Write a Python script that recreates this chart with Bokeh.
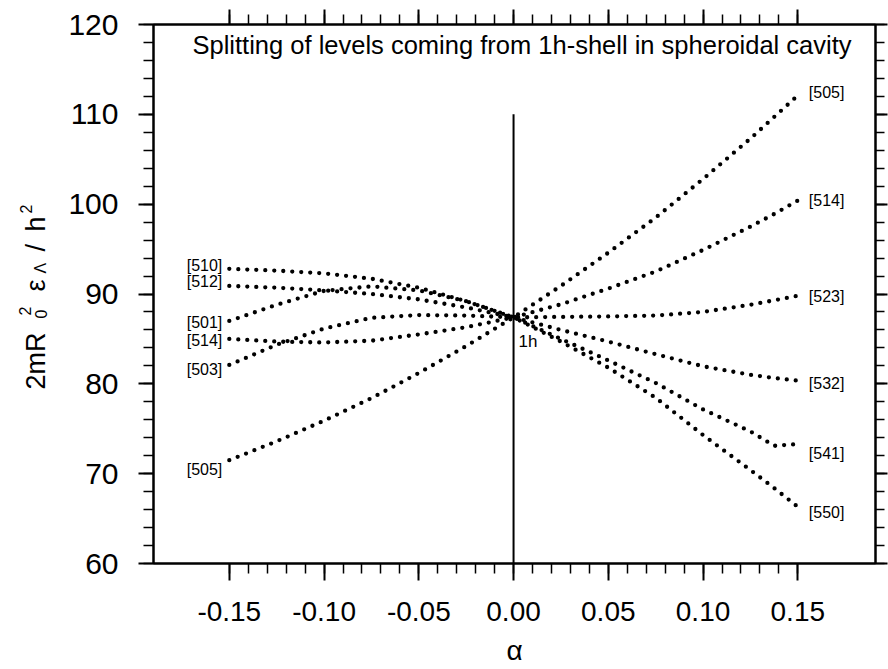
import numpy as np
from bokeh.plotting import figure
from bokeh.layouts import row
from bokeh.models import Range1d, LinearAxis, FixedTicker, PrintfTickFormatter, ColumnDataSource, Label
from bokeh.core.properties import value
from bokeh.embed import file_html
from bokeh.resources import INLINE

# ---------------- data ----------------
alpha = [-0.15, -0.125, -0.10, -0.075, -0.05, -0.025, 0.0,
         0.025, 0.05, 0.075, 0.10, 0.125, 0.1375, 0.15]

# levels by projection Lambda (left label / right label)
lam5 = [71.5, 73.6, 75.9, 78.4, 81.2, 84.2, 87.4, 90.9, 94.6, 98.5, 102.8, 107.3, 109.7, 112.1]   # [505]/[505]
lam4 = [85.0, 84.7, 84.6, 84.8, 85.5, 86.3, 87.4, 88.85, 90.6, 92.5, 94.9, 97.5, 98.9, 100.4]    # [514]/[514]
lam3 = [82.1, 84.35, 86.15, 87.35, 87.65, 87.6, 87.4, 87.45, 87.5, 87.6, 88.0, 88.8, 89.3, 89.8] # [503]/[523]
lam2 = [90.9, 90.7, 90.4, 90.0, 89.4, 88.5, 87.4, 86.0, 84.7, 83.3, 81.95, 81.0, 80.65, 80.35]   # [512]/[532]
lam1 = [87.0, 88.8, 90.35, 90.85, 90.4, 89.2, 87.4, 85.0, 82.6, 80.1, 77.15, 74.7, 73.1, 73.3]   # [501]/[541]
lam0 = [92.8, 92.6, 92.3, 91.7, 90.7, 89.2, 87.4, 84.7, 81.8, 78.45, 74.3, 70.4, 68.4, 66.3]     # [510]/[550]

left_labels = ["[505]", "[514]", "[503]", "[512]", "[501]", "[510]"]
right_labels = ["[505]", "[514]", "[523]", "[532]", "[541]", "[550]"]

e_1h = 87.4
zero_line_alpha = [0.0, 0.0]
zero_line_e = [60, 110]

x_ticks = [-0.15, -0.10, -0.05, 0.0, 0.05, 0.10, 0.15]
y_ticks = [60, 70, 80, 90, 100, 110, 120]

title_text = "Splitting of levels coming from 1h-shell in spheroidal cavity"
x_label = "α"
# y label pieces: text, role (main / sub / sup)
y_label_parts = [("2mR", "main"), ("0", "sub"), ("2", "sup"), ("ε", "main"),
                 ("Λ", "sub"), ("/", "main"), ("h", "main"), ("2", "sup")]

# ---------------- styling / layout ----------------
FONT = "Liberation Sans"
W = 888
H = 669
LAB_W = 60
FRAME_TOP = 24
FRAME_BOTTOM = 563
left_dy = [9, 2, 5, -4, 2, -3]
right_dy = [-2.5, 0, 1, 3, 9, 6]

# pixel placement of the y-label pieces (glyph centre x, start y from top), same order as parts
y_label_pos = [(35, 389), (40, 318), (24, 315), (35, 291), (40, 273), (35, 251), (35, 231), (25, 213)]
role_size = {"main": "27px", "sub": "16px", "sup": "16px"}

# ---- y-label strip (text glyphs inside its own frame, frame aligned with main frame) ----
pl = figure(width=LAB_W, height=H, output_backend="svg", toolbar_location=None,
            x_range=Range1d(0, LAB_W), y_range=Range1d(H - FRAME_BOTTOM, H - FRAME_TOP),
            x_axis_type=None, y_axis_type=None,
            min_border_left=0, min_border_right=0,
            min_border_top=FRAME_TOP, min_border_bottom=H - FRAME_BOTTOM,
            outline_line_color=None, background_fill_color="white", border_fill_color="white")
pl.grid.visible = False
for (t, role), (cx, sy) in zip(y_label_parts, y_label_pos):
    pl.text(x=[cx], y=[H - sy], text=[t], angle=90, angle_units="deg",
            text_align="left", text_baseline="middle", text_font=value(FONT),
            text_font_size=role_size[role], text_color="black")

# ---- main plot ----
p = figure(width=W - LAB_W, height=H, output_backend="svg", toolbar_location=None,
           x_range=Range1d(-0.19, 0.191), y_range=Range1d(60, 120),
           min_border_left=153 - LAB_W, min_border_right=13,
           min_border_top=FRAME_TOP, min_border_bottom=H - FRAME_BOTTOM,
           background_fill_color="white", border_fill_color="white")
p.grid.visible = False
p.outline_line_color = "black"
p.outline_line_width = 2

x_minor = list(np.round(np.arange(-15, 16) / 100.0, 2))
y_minor = list(range(60, 121, 2))


def style_axis(ax, labels=True, out_major=15, out_minor=10):
    ax.axis_line_color = "black"
    ax.axis_line_width = 2
    ax.major_tick_line_color = "black"
    ax.major_tick_line_width = 2
    ax.minor_tick_line_color = "black"
    ax.minor_tick_line_width = 1.5
    ax.major_tick_in = 0
    ax.minor_tick_in = 0
    ax.major_tick_out = out_major
    ax.minor_tick_out = out_minor
    ax.major_label_text_font = FONT
    ax.major_label_text_color = "black"
    if not labels:
        ax.major_label_text_color = None
        ax.major_label_text_font_size = "1px"
        ax.major_label_standoff = 0


xb = p.xaxis[0]
xb.ticker = FixedTicker(ticks=x_ticks, minor_ticks=x_minor)
xb.formatter = PrintfTickFormatter(format="%.2f")
style_axis(xb, out_major=17, out_minor=10)
xb.major_label_text_font_size = "28px"
xb.major_label_standoff = 21
xb.axis_label = x_label
xb.axis_label_text_font = FONT
xb.axis_label_text_font_size = "28px"
xb.axis_label_text_font_style = "normal"
xb.axis_label_text_color = "black"
xb.axis_label_standoff = 11

yl = p.yaxis[0]
yl.ticker = FixedTicker(ticks=y_ticks, minor_ticks=y_minor)
style_axis(yl)
yl.major_label_text_font_size = "30px"
yl.major_label_standoff = 20

xt = LinearAxis(ticker=FixedTicker(ticks=x_ticks, minor_ticks=x_minor))
style_axis(xt, labels=False)
p.add_layout(xt, "above")

yr = LinearAxis(ticker=FixedTicker(ticks=y_ticks, minor_ticks=y_minor))
style_axis(yr, labels=False, out_major=12, out_minor=9)
p.add_layout(yr, "right")

# vertical line at alpha = 0
p.line(zero_line_alpha, zero_line_e, line_color="black", line_width=2)

# dotted curves
for vals in [lam5, lam4, lam3, lam2, lam1, lam0]:
    p.line(alpha, vals, line_color="black", line_width=4.3, line_dash="0 9", line_cap="round")

# end labels
left_src = ColumnDataSource(dict(x=[alpha[0]] * 6,
                                 y=[lam5[0], lam4[0], lam3[0], lam2[0], lam1[0], lam0[0]],
                                 text=left_labels, dy=left_dy))
right_src = ColumnDataSource(dict(x=[alpha[-1]] * 6,
                                  y=[lam5[-1], lam4[-1], lam3[-1], lam2[-1], lam1[-1], lam0[-1]],
                                  text=right_labels, dy=right_dy))
p.text(x="x", y="y", text="text", source=left_src, x_offset=-7, y_offset="dy",
       text_align="right", text_baseline="middle", text_font=value(FONT),
       text_font_size="16px", text_color="black")
p.text(x="x", y="y", text="text", source=right_src, x_offset=11, y_offset="dy",
       text_align="left", text_baseline="middle", text_font=value(FONT),
       text_font_size="16px", text_color="black")

# 1h label
p.text(x=[0.0], y=[e_1h], text=["1h"], x_offset=5, y_offset=15,
       text_align="left", text_baseline="top", text_font=value(FONT),
       text_font_size="17px", text_color="black")

# title inside frame
p.add_layout(Label(x=39, y=532.5, x_units="screen", y_units="screen", text=title_text,
                   text_font=FONT, text_font_size="25.5px", text_align="left",
                   text_baseline="top", text_color="black"))

layout = row(pl, p, spacing=0)
open("out.html", "w").write(file_html(layout, INLINE))
